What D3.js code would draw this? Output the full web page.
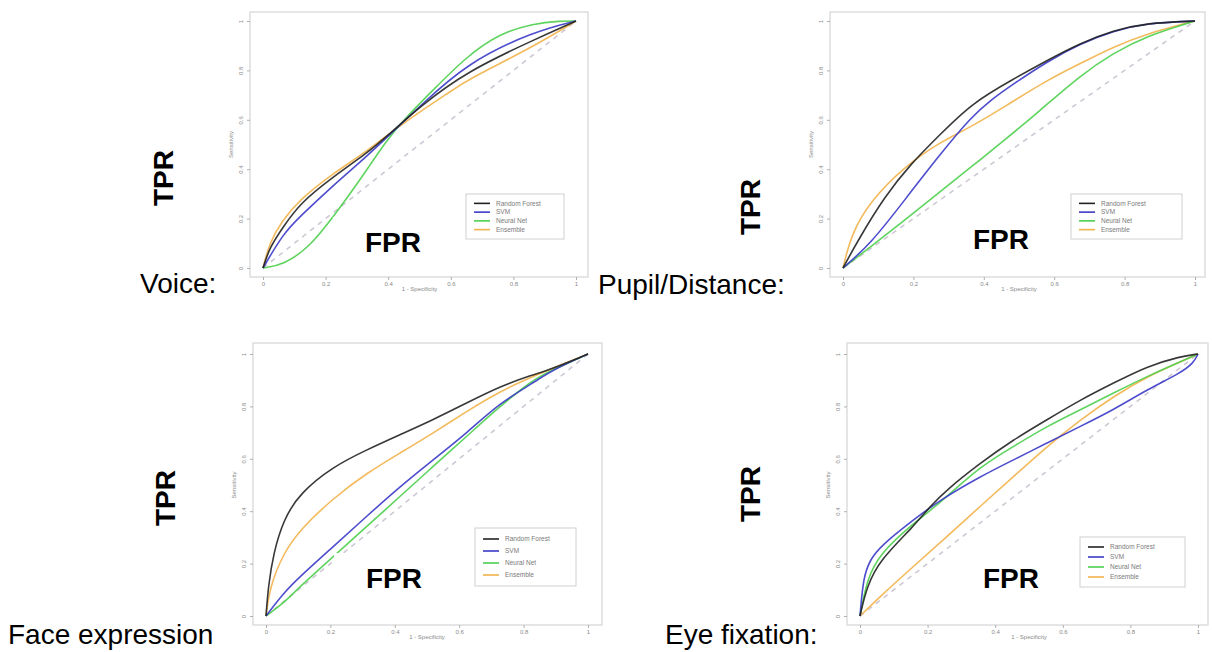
<!DOCTYPE html>
<html>
<head>
<meta charset="utf-8">
<script src="https://cdn.jsdelivr.net/npm/d3@7"></script>
<style>
  body { margin: 0; background: #fff; }
  svg { display: block; font-family: "Liberation Sans", Arial, sans-serif; }
</style>
</head>
<body>
<div id="chart"></div>
<script>
// ROC points [FPR, TPR]
const seriesNames = ["Random Forest", "SVM", "Neural Net", "Ensemble"];
const seriesColors = ["#222222", "#3a3ac8", "#4ccf4c", "#f2b24a"];
const ticks = [0, 0.2, 0.4, 0.6, 0.8, 1];
const tickLabels = ["0", "0.2", "0.4", "0.6", "0.8", "1"];

const voiceRF = [[0,0],[0.022,0.086],[0.065,0.167],[0.118,0.262],[0.225,0.37],[0.331,0.464],[0.395,0.532],[0.5,0.653],[0.65,0.795],[0.864,0.923],[1,1]];
const voiceSVM = [[0,0],[0.065,0.14],[0.118,0.208],[0.225,0.336],[0.331,0.451],[0.438,0.579],[0.5,0.653],[0.65,0.829],[0.864,0.957],[1,1]];
const voiceNN = [[0,0],[0.065,0.012],[0.15,0.086],[0.225,0.208],[0.31,0.356],[0.395,0.518],[0.459,0.613],[0.544,0.721],[0.65,0.856],[0.757,0.95],[0.864,0.99],[0.95,1],[1,1]];
const voiceEns = [[0,0],[0.02,0.1],[0.06,0.19],[0.12,0.28],[0.22,0.38],[0.33,0.47],[0.45,0.59],[0.6,0.715],[0.65,0.76],[0.864,0.896],[1,1]];

const pupilRF = [[0,0],[0.043,0.113],[0.118,0.289],[0.194,0.424],[0.27,0.532],[0.365,0.667],[0.484,0.765],[0.579,0.84],[0.674,0.91],[0.768,0.962],[0.863,0.992],[1,1]];
const pupilSVM = [[0,0],[0.08,0.1],[0.175,0.275],[0.27,0.45],[0.365,0.613],[0.42,0.68],[0.484,0.745],[0.579,0.835],[0.674,0.908],[0.768,0.96],[0.863,0.992],[1,1]];
const pupilNN = [[0,0],[0.08,0.087],[0.175,0.194],[0.27,0.302],[0.365,0.41],[0.459,0.518],[0.554,0.63],[0.674,0.78],[0.768,0.87],[0.863,0.94],[1,1]];
const pupilEns = [[0,0],[0.024,0.14],[0.08,0.275],[0.175,0.41],[0.27,0.505],[0.365,0.572],[0.459,0.653],[0.579,0.76],[0.674,0.828],[0.768,0.895],[0.863,0.949],[1,1]];

const faceRF = [[0,0],[0.007,0.112],[0.023,0.239],[0.054,0.367],[0.105,0.469],[0.209,0.571],[0.312,0.634],[0.416,0.692],[0.519,0.749],[0.623,0.813],[0.726,0.876],[0.829,0.921],[0.881,0.94],[1,1]];
const faceSVM = [[0,0],[0.054,0.087],[0.105,0.15],[0.209,0.265],[0.312,0.38],[0.416,0.494],[0.519,0.596],[0.623,0.698],[0.726,0.813],[0.829,0.889],[0.891,0.94],[1,1]];
const faceNN = [[0,0],[0.054,0.048],[0.105,0.112],[0.209,0.227],[0.312,0.341],[0.416,0.456],[0.519,0.571],[0.623,0.685],[0.726,0.8],[0.829,0.902],[0.891,0.94],[1,1]];
const faceEns = [[0,0],[0.012,0.112],[0.054,0.239],[0.105,0.329],[0.209,0.45],[0.312,0.545],[0.416,0.622],[0.519,0.698],[0.623,0.781],[0.726,0.857],[0.829,0.915],[1,1]];

const eyeRF = [[0,0],[0.02,0.112],[0.059,0.214],[0.158,0.341],[0.207,0.418],[0.257,0.482],[0.355,0.583],[0.454,0.673],[0.553,0.749],[0.652,0.825],[0.75,0.889],[0.849,0.953],[0.948,0.991],[1,1]];
const eyeSVM = [[0,0],[0.01,0.15],[0.03,0.214],[0.059,0.265],[0.158,0.367],[0.237,0.443],[0.355,0.532],[0.454,0.596],[0.553,0.66],[0.652,0.724],[0.75,0.787],[0.849,0.864],[0.948,0.927],[0.987,0.966],[1,1]];
const eyeNN = [[0,0],[0.02,0.138],[0.059,0.239],[0.158,0.354],[0.237,0.431],[0.355,0.571],[0.454,0.647],[0.553,0.724],[0.652,0.787],[0.75,0.851],[0.849,0.915],[1,1]];
const eyeEns = [[0,0],[0.059,0.074],[0.158,0.189],[0.257,0.303],[0.355,0.418],[0.454,0.532],[0.553,0.647],[0.652,0.749],[0.75,0.838],[0.849,0.915],[1,1]];

// layout of the four panels
const panels = [
    { name: "Voice:", series: [voiceRF, voiceSVM, voiceNN, voiceEns],
      frame: [250, 12, 588, 277], x: [263, 576], y: [268, 21],
      nameAt: [140, 293], tprAt: [163, 178], fprAt: [393, 252], legend: [466, 194, 98, 45] },
    { name: "Pupil/Distance:", series: [pupilRF, pupilSVM, pupilNN, pupilEns],
      frame: [830, 12, 1205, 277], x: [843, 1195], y: [268, 21],
      nameAt: [598, 294], tprAt: [750, 207], fprAt: [1001, 249], legend: [1071, 194, 111, 45] },
    { name: "Face expression", series: [faceRF, faceSVM, faceNN, faceEns],
      frame: [253, 343, 602, 625], x: [266, 588], y: [616, 354],
      nameAt: [8, 644], tprAt: [165, 498], fprAt: [394, 588], legend: [475, 528, 101, 58] },
    { name: "Eye fixation:", series: [eyeRF, eyeSVM, eyeNN, eyeEns],
      frame: [847, 343, 1208, 625], x: [860, 1198], y: [616, 354],
      nameAt: [665, 644], tprAt: [750, 494], fprAt: [1011, 588], legend: [1080, 537, 105, 50] }
];

const svg = d3.select("#chart").append("svg")
    .attr("width", 1212)
    .attr("height", 652);

panels.forEach(p => {
    const g = svg.append("g");
    const xScale = d3.scaleLinear().domain([0, 1]).range(p.x);
    const yScale = d3.scaleLinear().domain([0, 1]).range(p.y);

    // plot frame
    g.append("rect")
        .attr("x", p.frame[0]).attr("y", p.frame[1])
        .attr("width", p.frame[2] - p.frame[0]).attr("height", p.frame[3] - p.frame[1])
        .attr("fill", "none").attr("stroke", "#d4d4d4").attr("stroke-width", 1.2);

    // axes, R style: small gray ticks outside the frame
    const xAxis = g.append("g")
        .attr("transform", `translate(0, ${p.frame[3]})`)
        .call(d3.axisBottom(xScale).tickValues(ticks).tickFormat((d, i) => tickLabels[i]).tickSize(3).tickPadding(2));
    const yAxis = g.append("g")
        .attr("transform", `translate(${p.frame[0]}, 0)`)
        .call(d3.axisLeft(yScale).tickValues(ticks).tickFormat((d, i) => tickLabels[i]).tickSize(3).tickPadding(3));
    [xAxis, yAxis].forEach(a => {
        a.select(".domain").remove();
        a.selectAll("line").attr("stroke", "#b0b0b0");
        a.selectAll("text").attr("fill", "#8a8a8a").style("font-size", "6px");
    });
    yAxis.selectAll("text")
        .attr("text-anchor", "middle")
        .attr("transform", "rotate(-90) translate(0, -9)")
        .attr("x", 0).attr("dy", "0.32em");

    g.append("text")
        .attr("x", (p.x[0] + p.x[1]) / 2)
        .attr("y", p.frame[3] + 14)
        .attr("text-anchor", "middle")
        .attr("fill", "#8a8a8a").style("font-size", "6px")
        .text("1 - Specificity");
    g.append("text")
        .attr("transform", `translate(${p.frame[0] - 17}, ${(p.y[0] + p.y[1]) / 2}) rotate(-90)`)
        .attr("text-anchor", "middle")
        .attr("fill", "#8a8a8a").style("font-size", "6px")
        .text("Sensitivity");

    // chance diagonal
    g.append("line")
        .attr("x1", xScale(0)).attr("y1", yScale(0))
        .attr("x2", xScale(1)).attr("y2", yScale(1))
        .attr("stroke", "#cfc8d4").attr("stroke-width", 1.6)
        .attr("stroke-dasharray", "5,5");

    const line = d3.line()
        .x(d => xScale(d[0]))
        .y(d => yScale(d[1]))
        .curve(d3.curveBasis);

    // ensemble first so the others sit on top like the reference
    [3, 2, 1, 0].forEach(i => {
        g.append("path")
            .datum(p.series[i])
            .attr("d", line)
            .attr("fill", "none")
            .attr("stroke", seriesColors[i])
            .attr("stroke-width", 1.6)
            .attr("stroke-opacity", 0.9);
    });

    // legend
    const [lx, ly, lw, lh] = p.legend;
    g.append("rect")
        .attr("x", lx).attr("y", ly).attr("width", lw).attr("height", lh)
        .attr("fill", "#fff").attr("stroke", "#d0d0d0").attr("stroke-width", 1);
    const step = (lh - 10) / 4;
    seriesNames.forEach((name, i) => {
        const yy = ly + 5 + step * (i + 0.5);
        g.append("line")
            .attr("x1", lx + 8).attr("x2", lx + 24)
            .attr("y1", yy).attr("y2", yy)
            .attr("stroke", seriesColors[i]).attr("stroke-width", 1.6);
        g.append("text")
            .attr("x", lx + 30).attr("y", yy)
            .attr("dy", "0.35em")
            .attr("fill", "#7a7a7a").style("font-size", "6.5px")
            .text(name);
    });

    // big overlaid labels
    const bigSize = 28;
    g.append("rect")
        .attr("x", p.fprAt[0] - 60).attr("y", p.fprAt[1] - 35)
        .attr("width", 120).attr("height", 45)
        .attr("fill", "#fff");
    g.append("text")
        .attr("x", p.fprAt[0]).attr("y", p.fprAt[1])
        .attr("text-anchor", "middle")
        .style("font-size", bigSize + "px").style("font-weight", "bold")
        .text("FPR");
    g.append("text")
        .attr("transform", `translate(${p.tprAt[0] + 10}, ${p.tprAt[1]}) rotate(-90)`)
        .attr("text-anchor", "middle")
        .style("font-size", bigSize + "px").style("font-weight", "bold")
        .text("TPR");
    g.append("text")
        .attr("x", p.nameAt[0]).attr("y", p.nameAt[1])
        .style("font-size", bigSize + "px")
        .text(p.name);
});
</script>
</body>
</html>
